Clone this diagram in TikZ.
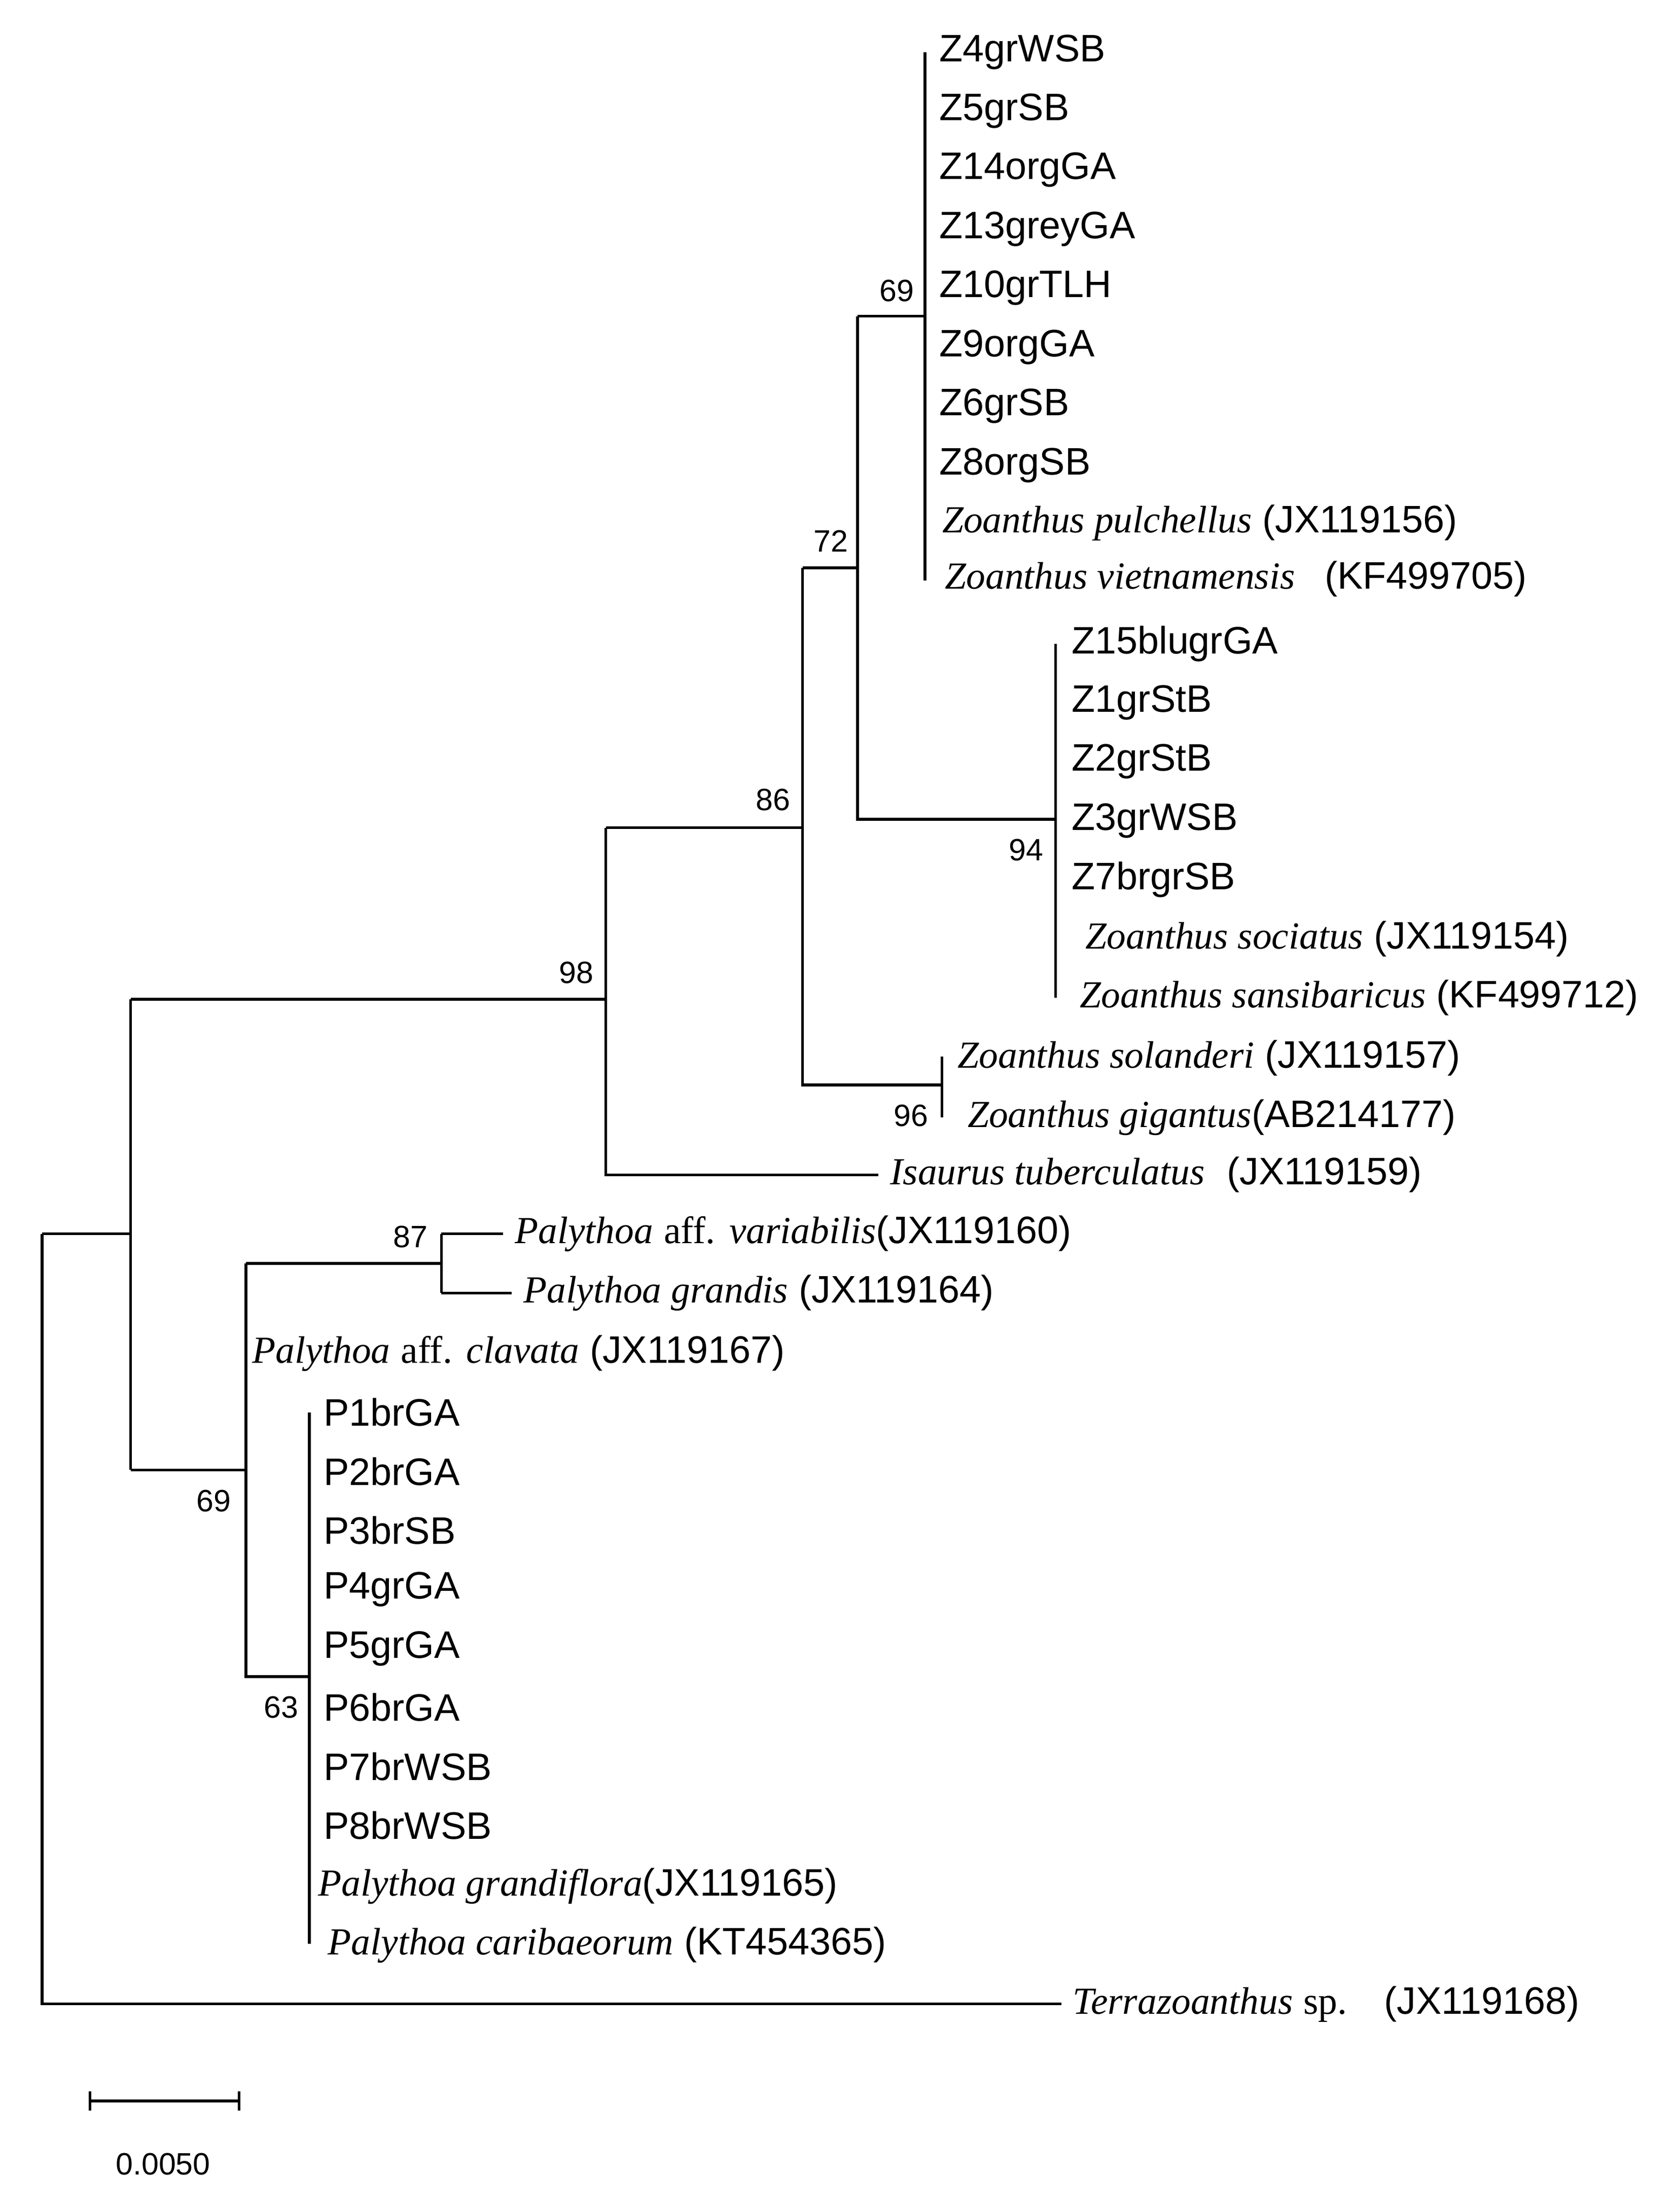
\documentclass[tikz,border=0pt]{standalone}
\usepackage{fontspec}
\setmainfont{Liberation Sans}
\newfontfamily\ser{Liberation Serif}
\newcommand{\spn}[2]{{\ser\itshape #1}~#2}
\begin{document}
\begin{tikzpicture}[x=0.02cm,y=-0.02cm,
  br/.style={line width=1.1pt},
  lf/.style={anchor=west,font=\fontsize{15.5}{18}\selectfont,inner sep=0pt},
  bs/.style={font=\fontsize{12.5}{14}\selectfont,inner sep=0pt}]
\useasboundingbox[fill=white] (0,0) rectangle (1190,1574);
\coordinate (r) at (30,878);
\coordinate (a) at (93,878);
\coordinate (n98) at (431,711);
\coordinate (n86) at (571,589);
\coordinate (n72) at (610,404);
\coordinate (n69) at (658,225);
\coordinate (n94) at (751,583);
\coordinate (n96) at (670,772);
\coordinate (nl) at (175,1046);
\coordinate (n87) at (314,899);
\coordinate (n63) at (220,1193);
\draw[br] (r) -- (30,1426) -- (755,1426);
\draw[br] (r) -- (a);
\draw[br] (93,711) -- (93,1046);
\draw[br] (93,711) -- (n98);
\draw[br] (93,1046) -- (nl);
\draw[br] (431,589) -- (431,836) -- (625,836);
\draw[br] (431,589) -- (n86);
\draw[br] (571,404) -- (571,772) -- (n96);
\draw[br] (571,404) -- (n72);
\draw[br] (610,225) -- (610,583) -- (n94);
\draw[br] (610,225) -- (n69);
\draw[br] (658,37) -- (658,413);
\draw[br] (751,458) -- (751,710);
\draw[br] (670,752) -- (670,795);
\draw[br] (175,899) -- (175,1193) -- (n63);
\draw[br] (175,899) -- (n87);
\draw[br] (314,878) -- (314,920);
\draw[br] (314,878) -- (358,878);
\draw[br] (314,920) -- (364,920);
\draw[br] (220,1005) -- (220,1383);
\node[bs] (b98) at (410,692) {98};
\node[bs] (b86) at (550,569) {86};
\node[bs] (b72) at (591,385) {72};
\node[bs] (b69a) at (638,207) {69};
\node[bs] (b94) at (730,605) {94};
\node[bs] (b96) at (648,794) {96};
\node[bs] (b69b) at (152,1068) {69};
\node[bs] (b87) at (292,880) {87};
\node[bs] (b63) at (200,1215) {63};
\foreach \t [count=\i from 0] in {Z4grWSB,Z5grSB,Z14orgGA,Z13greyGA,Z10grTLH,Z9orgGA,Z6grSB,Z8orgSB}
  \node[lf] (z\i) at (668,{37+42*\i}) {\t};
\node[lf] (zp) at (670,372) {\spn{Zoanthus pulchellus}{(JX119156)}};
\node[lf] (zv) at (672,412) {\spn{Zoanthus vietnamensis}{\hspace{0.5em}(KF499705)}};
\foreach \t [count=\i from 0] in {Z15blugrGA,Z1grStB,Z2grStB,Z3grWSB,Z7brgrSB}
  \node[lf] (y\i) at (762,{458+42*\i}) {\t};
\node[lf] (zs) at (772,668) {\spn{Zoanthus sociatus}{(JX119154)}};
\node[lf] (zsa) at (768,710) {\spn{Zoanthus sansibaricus}{(KF499712)}};
\node[lf] (zso) at (681,753) {\spn{Zoanthus solanderi}{(JX119157)}};
\node[lf] (zg) at (688,795) {{\ser\itshape Zoanthus gigantus}(AB214177)};
\node[lf] (is) at (633,836) {\spn{Isaurus tuberculatus}{\hspace{0.3em}(JX119159)}};
\node[lf] (pv) at (366,878) {{\ser\itshape Palythoa} {\ser aff.} {\ser\itshape variabilis}(JX119160)};
\node[lf] (pg) at (372,920) {\spn{Palythoa grandis}{(JX119164)}};
\node[lf] (pc) at (179,963) {{\ser\itshape Palythoa} {\ser aff.} {\ser\itshape clavata} (JX119167)};
\foreach \t [count=\i from 0] in {P1brGA,P2brGA,P3brSB,P4grGA,P5grGA,P6brGA,P7brWSB,P8brWSB}
  \node[lf] (p\i) at (230,{1005+42*\i}) {\t};
\node[lf] (pgf) at (226,1342) {{\ser\itshape Palythoa grandiflora}(JX119165)};
\node[lf] (pca) at (233,1384) {\spn{Palythoa caribaeorum}{(KT454365)}};
\node[lf] (te) at (763,1426) {{\ser\itshape Terrazoanthus} {\ser sp.}\hspace{0.6em} (JX119168)};
\coordinate (s1) at (64,1495);
\coordinate (s2) at (170,1495);
\draw[br] (s1) -- (s2);
\draw[br] (64,1488) -- (64,1502);
\draw[br] (170,1488) -- (170,1502);
\node[bs] (sl) at (116,1540) {0.0050};
\end{tikzpicture}
\end{document}
